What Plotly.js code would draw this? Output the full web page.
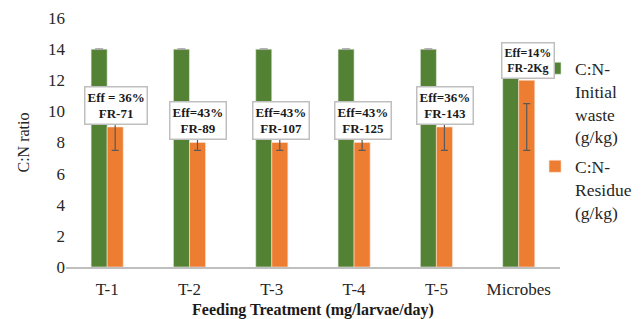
<!DOCTYPE html>
<html>
<head>
<meta charset="utf-8">
<script src="https://cdn.plot.ly/plotly-3.0.1.min.js"></script>
<style>html,body{margin:0;padding:0;background:#fff;}#chart{width:642px;height:319px;}</style>
</head>
<body>
<div id="chart"></div>
<script>
// ---- data ----
const categories = ["T-1", "T-2", "T-3", "T-4", "T-5", "Microbes"];
const initialWaste = [14, 14, 14, 14, 14, 14];
const initialErr = [0.03, 0.03, 0.03, 0.03, 0.03, 0.03];
const residue = [9, 8, 8, 8, 9, 12];
const residueErrCenter = [9, 9, 9, 9, 9, 9];
const residueErrHalf = [1.5, 1.5, 1.5, 1.5, 1.5, 1.5];
const effLabels = ["Eff = 36%", "Eff=43%", "Eff=43%", "Eff=43%", "Eff=36%", "Eff=14%"];
const frLabels = ["FR-71", "FR-89", "FR-107", "FR-125", "FR-143", "FR-2Kg"];
const yTicks = [0, 2, 4, 6, 8, 10, 12, 14, 16];

// ---- layout helpers (positions/styles) ----
const labelPosY = [10.4, 9.4, 9.4, 9.4, 10.35, 13.3];
const labelFont = [13, 13, 13, 13, 13, 12];
const serif = "'Liberation Serif', 'Times New Roman', serif";
const green = "#548235", orange = "#ED7D31", errColor = "#595959";

const traces = [
  {
    type: "bar", name: "C:N-<br>Initial<br>waste<br>(g/kg)", legendgroup: "g1",
    x: categories, y: initialWaste, offsetgroup: "a",
    marker: {color: green, line: {color: "#e8efe4", width: 0.6}},
    error_y: {type: "data", array: initialErr, visible: true, color: "#a6a6a6", thickness: 1, width: 4},
    hoverinfo: "skip"
  },
  {
    type: "bar", name: "C:N-<br>Residue<br>(g/kg)", legendgroup: "g2",
    x: categories, y: residue, offsetgroup: "b",
    marker: {color: orange, line: {color: "#fbe3d3", width: 0.6}},
    hoverinfo: "skip"
  },
  {
    type: "bar", name: "err", showlegend: false, legendgroup: "g2",
    x: categories, y: residueErrCenter, offsetgroup: "b",
    marker: {color: "rgba(0,0,0,0)"},
    error_y: {type: "data", array: residueErrHalf, visible: true, color: errColor, thickness: 1.2, width: 3.5},
    hoverinfo: "skip"
  }
];

const annotations = categories.map((c, i) => ({
  x: c, y: labelPosY[i], xref: "x", yref: "y", xshift: 9,
  text: "<b>" + effLabels[i] + "<br>" + frLabels[i] + "</b>",
  showarrow: false,
  font: {family: serif, size: labelFont[i], color: "#1a1a1a"},
  bgcolor: "#ffffff", bordercolor: "#bfbfbf", borderwidth: 1.5, borderpad: 2,
  align: "center"
}));

const layout = {
  width: 642, height: 319,
  margin: {l: 66, r: 4, t: 18, b: 52},
  paper_bgcolor: "#fff", plot_bgcolor: "#fff",
  barmode: "overlay",
  bargap: 0.61,
  showlegend: true,
  font: {family: serif, color: "#262626"},
  xaxis: {
    type: "category", domain: [0, 0.8634],
    showline: true, linecolor: "#bfbfbf", linewidth: 1.5,
    ticks: "", showgrid: false, zeroline: false,
    ticklabelstandoff: 6,
    tickfont: {family: serif, size: 17, color: "#262626"},
    title: {text: "<b>Feeding Treatment (mg/larvae/day)</b>", font: {family: serif, size: 16, color: "#1a1a1a"}, standoff: 6}
  },
  yaxis: {
    range: [0, 16], tickvals: yTicks, showgrid: false, zeroline: false,
    showline: false, ticks: "",
    tickfont: {family: serif, size: 17, color: "#262626"},
    title: {text: "C:N ratio", font: {family: serif, size: 16, color: "#262626"}, standoff: 14}
  },
  legend: {
    x: 0.82, xanchor: "left", y: 0.87, yanchor: "top",
    valign: "top", traceorder: "grouped", tracegroupgap: 4,
    bgcolor: "rgba(0,0,0,0)",
    font: {family: serif, size: 17.5, color: "#262626"},
    itemwidth: 30
  },
  annotations: annotations
};

Plotly.newPlot("chart", traces, layout, {displayModeBar: false, staticPlot: true});
</script>
</body>
</html>
